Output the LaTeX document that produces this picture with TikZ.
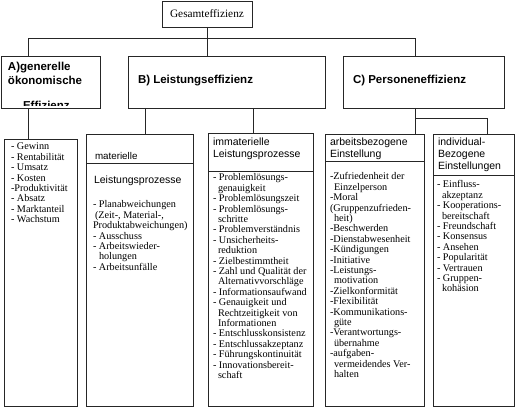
\documentclass[tikz,border=0pt]{standalone}
\usepackage{fontspec}
\setmainfont{Liberation Serif}
\newfontfamily\arialf{Liberation Sans}
\usetikzlibrary{calc}
\newcommand{\tb}[1]{\begin{tabular}[t]{@{}l@{}}#1\end{tabular}}
\tikzset{
 frame/.style={draw=black!85, line width=0.75pt, inner sep=0pt, outer sep=0pt, anchor=north west},
 conn/.style={draw=black!85, line width=0.75pt},
 txt/.style={inner sep=0pt, outer sep=0pt, anchor=base west},
 bul/.style={txt, font=\fontsize{10.2}{10.4}\selectfont},
 head/.style={txt, font=\arialf\fontsize{10.5}{12}\selectfont},
 big/.style={txt, font=\arialf\bfseries\fontsize{11.5}{14}\selectfont},
}
\begin{document}
\begin{tikzpicture}[x=1pt,y=-1pt]
\useasboundingbox (0,0) rectangle (516,411);
% boxes
\node[frame, minimum width=90pt, minimum height=26pt] (G) at (162,1) {};
\node[frame, minimum width=99pt, minimum height=52pt] (A) at (1,56) {};
\node[frame, minimum width=197pt, minimum height=52pt] (B) at (128,56) {};
\node[frame, minimum width=161pt, minimum height=52pt] (C) at (343,56) {};
\node[frame, minimum width=73pt, minimum height=267pt] (P1) at (4,139) {};
\node[frame, minimum width=107pt, minimum height=272pt] (P2) at (86,134) {};
\node[frame, minimum width=105pt, minimum height=273pt] (P3) at (208,133) {};
\node[frame, minimum width=99pt, minimum height=272pt] (P4) at (325,134) {};
\node[frame, minimum width=81pt, minimum height=272pt] (P5) at (433,134) {};
% connectors
\coordinate (jA) at (28,38);
\coordinate (jC) at (415,38);
\coordinate (xB1) at (145,0);
\coordinate (xB2) at (253,0);
\coordinate (jC2) at (415,118);
\coordinate (jC3) at (487,118);
\draw[conn] (A.north -| jA) -- (jA) -- (jC) -- (C.north -| jC);
\draw[conn] (G.south) -- (G.south |- B.north);
\draw[conn] (jA |- A.south) -- (jA |- P1.north);
\draw[conn] (xB1 |- B.south) -- (xB1 |- P2.north);
\draw[conn] (xB2 |- B.south) -- (xB2 |- P3.north);
\draw[conn] (jC |- C.south) -- (jC |- P4.north);
\draw[conn] (jC2) -- (jC3) -- (jC3 |- P5.north);
% header separators
\draw[conn] (P2.west |- 0,163) -- (P2.east |- 0,163);
\draw[conn] (P3.west |- 0,171) -- (P3.east |- 0,171);
\draw[conn] (P4.west |- 0,161) -- (P4.east |- 0,161);
\draw[conn] (P5.west |- 0,175) -- (P5.east |- 0,175);
% texts
\node[inner sep=0pt, font=\fontsize{11.3}{13}\selectfont] (Gt) at (G.center) {Gesamteffizienz};
\begin{scope}
\clip (1,56) rectangle (100,106);
\node[big] (At) at (8,71) {\tb{A)generelle\\ökonomische}};
\node[big] (At2) at (23,110) {Effizienz};
\end{scope}
\node[big] (Bt) at (138,84) {B) Leistungseffizienz};
\node[big] (Ct) at (353,84) {C) Personeneffizienz};
\node[bul] (t1) at (11,150) {\tb{- Gewinn\\- Rentabilität\\- Umsatz\\- Kosten\\-Produktivität\\- Absatz\\- Marktanteil\\- Wachstum}};
\node[head, font=\arialf\fontsize{9.8}{11}\selectfont] (h2a) at (95,160) {materielle};
\node[head] (h2b) at (94,184) {Leistungsprozesse};
\node[bul] (t2) at (93,208) {\tb{- Planabweichungen\\\hspace*{2pt}(Zeit-, Material-,\\Produktabweichungen)\\- Ausschuss\\- Arbeitswieder-\\\hspace*{6pt}holungen\\- Arbeitsunfälle}};
\node[head] (h3) at (213,146) {\tb{immaterielle\\Leistungsprozesse}};
\node[bul] (t3) at (213,181) {\tb{- Problemlösungs-\\\hspace*{5pt}genauigkeit\\- Problemlösungszeit\\- Problemlösungs-\\\hspace*{5pt}schritte\\- Problemverständnis\\- Unsicherheits-\\\hspace*{5pt}reduktion\\- Zielbestimmtheit\\- Zahl und Qualität der\\\hspace*{5pt}Alternativvorschläge\\- Informationsaufwand\\- Genauigkeit und\\\hspace*{5pt}Rechtzeitigkeit von\\\hspace*{5pt}Informationen\\- Entschlusskonsistenz\\- Entschlussakzeptanz\\- Führungskontinuität\\- Innovationsbereit-\\\hspace*{5pt}schaft}};
\node[head] (h4) at (330,146) {\tb{arbeitsbezogene\\Einstellung}};
\node[bul] (t4) at (330,180) {\tb{-Zufriedenheit der\\\hspace*{4pt}Einzelperson\\-Moral\\(Gruppenzufrieden-\\\hspace*{4pt}heit)\\-Beschwerden\\-Dienstabwesenheit\\-Kündigungen\\-Initiative\\-Leistungs-\\\hspace*{4pt}motivation\\-Zielkonformität\\-Flexibilität\\-Kommunikations-\\\hspace*{4pt}güte\\-Verantwortungs-\\\hspace*{4pt}übernahme\\-aufgaben-\\\hspace*{4pt}vermeidendes Ver-\\\hspace*{4pt}halten}};
\node[head] (h5) at (438,146) {\tb{individual-\\Bezogene\\Einstellungen}};
\node[bul] (t5) at (437,188) {\tb{- Einfluss-\\\hspace*{5pt}akzeptanz\\- Kooperations-\\\hspace*{5pt}bereitschaft\\- Freundschaft\\- Konsensus\\- Ansehen\\- Popularität\\- Vertrauen\\- Gruppen-\\\hspace*{5pt}kohäsion}};
\end{tikzpicture}
\end{document}
